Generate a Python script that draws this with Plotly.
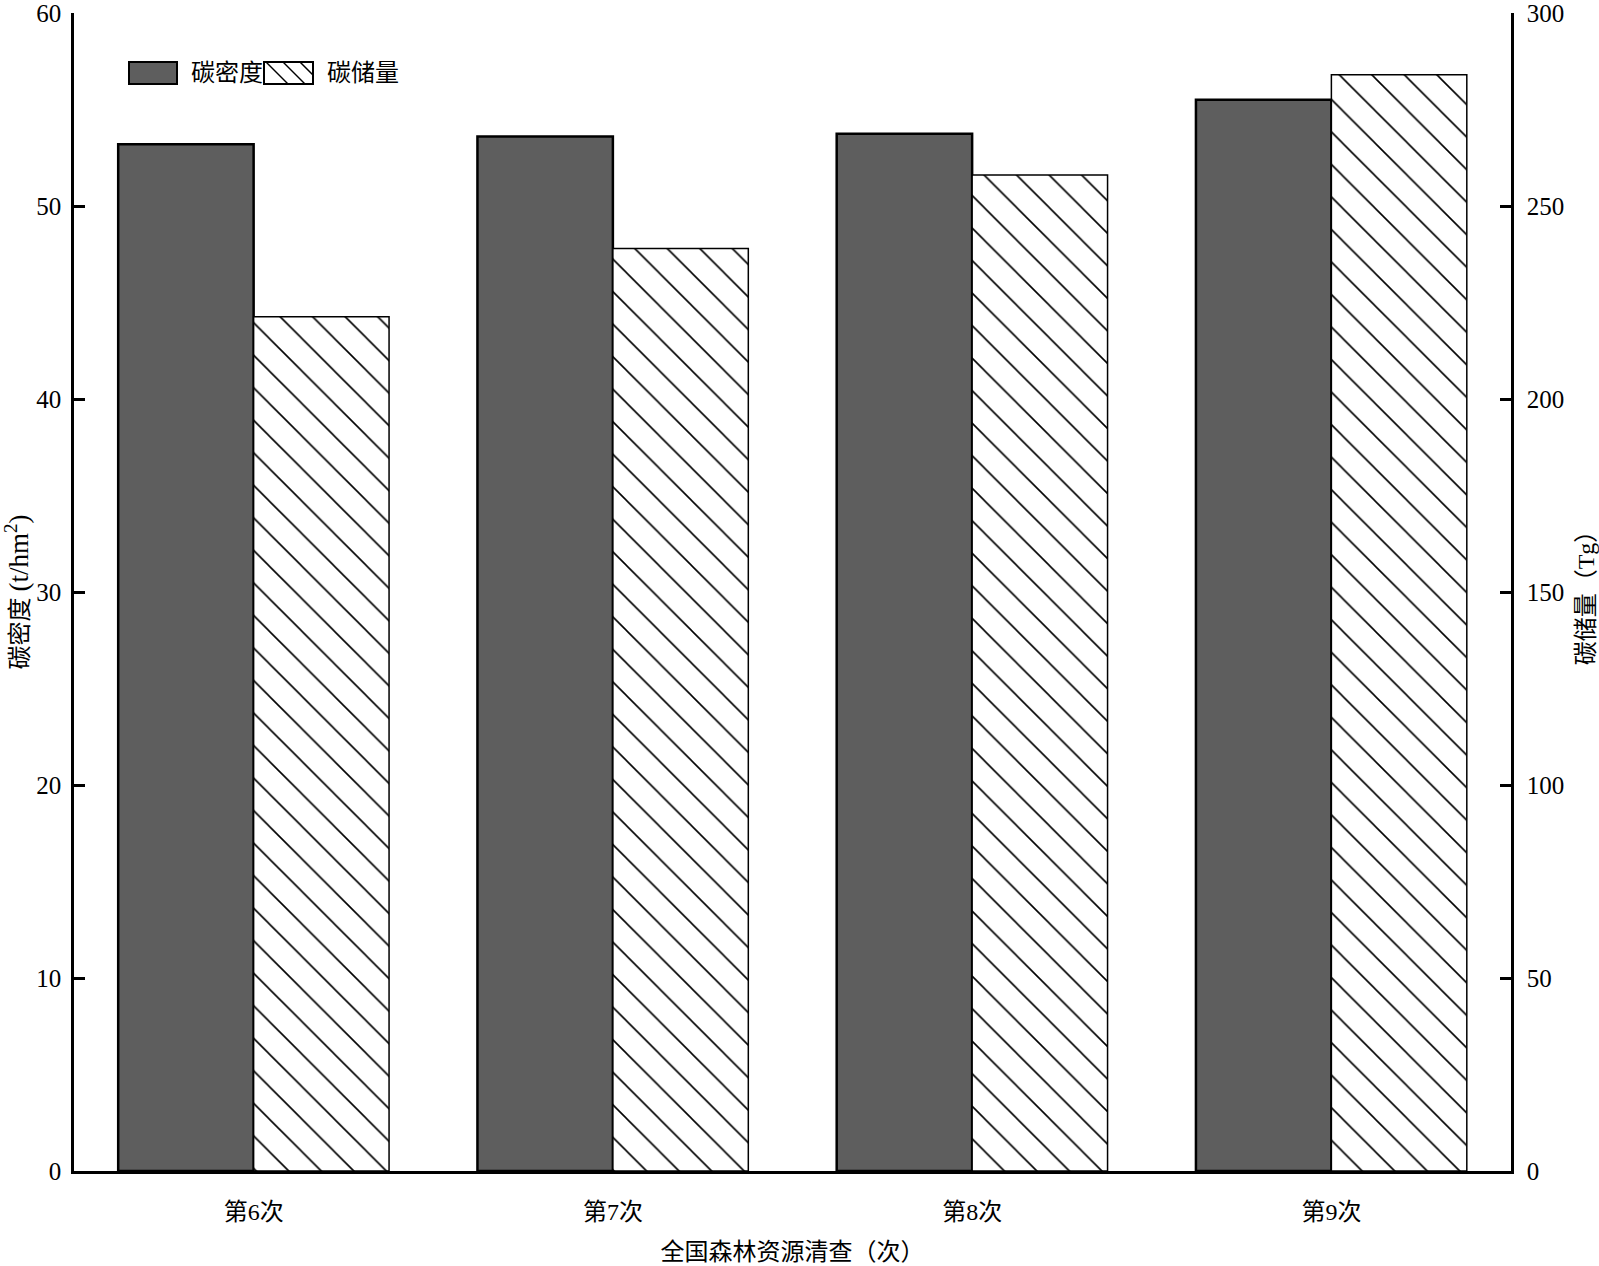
import plotly.graph_objects as go

categories = ["第6次", "第7次", "第8次", "第9次"]
carbon_density = [53.2, 53.6, 53.75, 55.5]      # t/hm2 (left axis)
carbon_storage = [221.3, 239.0, 258.0, 284.0]   # Tg (right axis)
legend_names = ["碳密度", "碳储量"]

W, H = 1599, 1266
L, R, T, B = 74, 1511, 13, 1171  # plot area in pixels

FONT = "Liberation Serif, Times New Roman, Noto Sans CJK SC, serif"

def px(x):
    return (x - L) / (R - L)

def py(y):
    return (B - y) / (B - T)

fig = go.Figure()
bw = 0.377
fig.add_trace(go.Bar(
    x=categories, y=carbon_density, name=legend_names[0], yaxis="y",
    width=bw, offset=-bw,
    marker=dict(color="#5e5e5e", line=dict(color="black", width=2.5)),
    showlegend=False,
))
fig.add_trace(go.Bar(
    x=categories, y=carbon_storage, name=legend_names[1], yaxis="y2",
    width=bw, offset=0,
    marker=dict(color="white", line=dict(color="black", width=1.5),
                pattern=dict(shape="\\", size=23, solidity=0.07,
                             fgcolor="black", bgcolor="white", fillmode="replace")),
    showlegend=False,
))

# custom legend
shapes = []
shapes.append(dict(type="rect", xref="paper", yref="paper",
                   x0=px(129), x1=px(177), y0=py(84), y1=py(62),
                   fillcolor="#5e5e5e", line=dict(color="black", width=2)))
shapes.append(dict(type="rect", xref="paper", yref="paper",
                   x0=px(264), x1=px(313), y0=py(84), y1=py(62),
                   fillcolor="white", line=dict(color="black", width=2)))
for (xa, ya, xb, yb) in [(266, 62, 288, 84), (283, 62, 305, 84), (300, 62, 313, 75)]:
    shapes.append(dict(type="line", xref="paper", yref="paper",
                       x0=px(xa), y0=py(ya), x1=px(xb), y1=py(yb),
                       line=dict(color="black", width=1.5)))

annotations = [
    dict(text=legend_names[0], xref="paper", yref="paper", x=px(189), y=py(73),
         xanchor="left", yanchor="middle", showarrow=False,
         font=dict(size=24, color="black", family=FONT)),
    dict(text=legend_names[1], xref="paper", yref="paper", x=px(325), y=py(73),
         xanchor="left", yanchor="middle", showarrow=False,
         font=dict(size=24, color="black", family=FONT)),
]

fig.update_layout(
    width=W, height=H,
    margin=dict(l=L, r=W - R, t=T, b=H - B, pad=0, autoexpand=False),
    paper_bgcolor="white", plot_bgcolor="white",
    font=dict(family=FONT, size=24, color="black"),
    barmode="overlay",
    shapes=shapes,
    annotations=annotations,
    xaxis=dict(
        range=[-0.5, 3.5], showline=True, linecolor="black", linewidth=2.5,
        ticks="", showgrid=False, zeroline=False, automargin=False,
        tickfont=dict(size=24, family=FONT), ticklabelstandoff=17,
        title=dict(text="全国森林资源清查（次）", standoff=20,
                   font=dict(size=24, family=FONT)),
    ),
    yaxis=dict(
        range=[0, 60], dtick=10, showline=True, linecolor="black", linewidth=2.5,
        ticks="inside", ticklen=11, tickwidth=2.5, tickcolor="black",
        showgrid=False, zeroline=False, automargin=False, ticklabeloverflow="allow",
        tickfont=dict(size=25, family=FONT), ticklabelstandoff=5,
        title=dict(text="碳密度 <span style='font-size:27px'>(t/hm<sup>2</sup>)</span>",
                   standoff=20, font=dict(size=24, family=FONT)),
    ),
    yaxis2=dict(
        range=[0, 300], dtick=50, overlaying="y", side="right",
        showline=True, linecolor="black", linewidth=2.5,
        ticks="inside", ticklen=11, tickwidth=2.5, tickcolor="black",
        showgrid=False, zeroline=False, automargin=False, ticklabeloverflow="allow",
        tickfont=dict(size=25, family=FONT), ticklabelstandoff=8,
        title=dict(text="碳储量（Tg）", standoff=18, font=dict(size=24, family=FONT)),
    ),
)

fig.write_html("out.html", config={"displayModeBar": False},
               post_script="document.body.style.margin='0';")
